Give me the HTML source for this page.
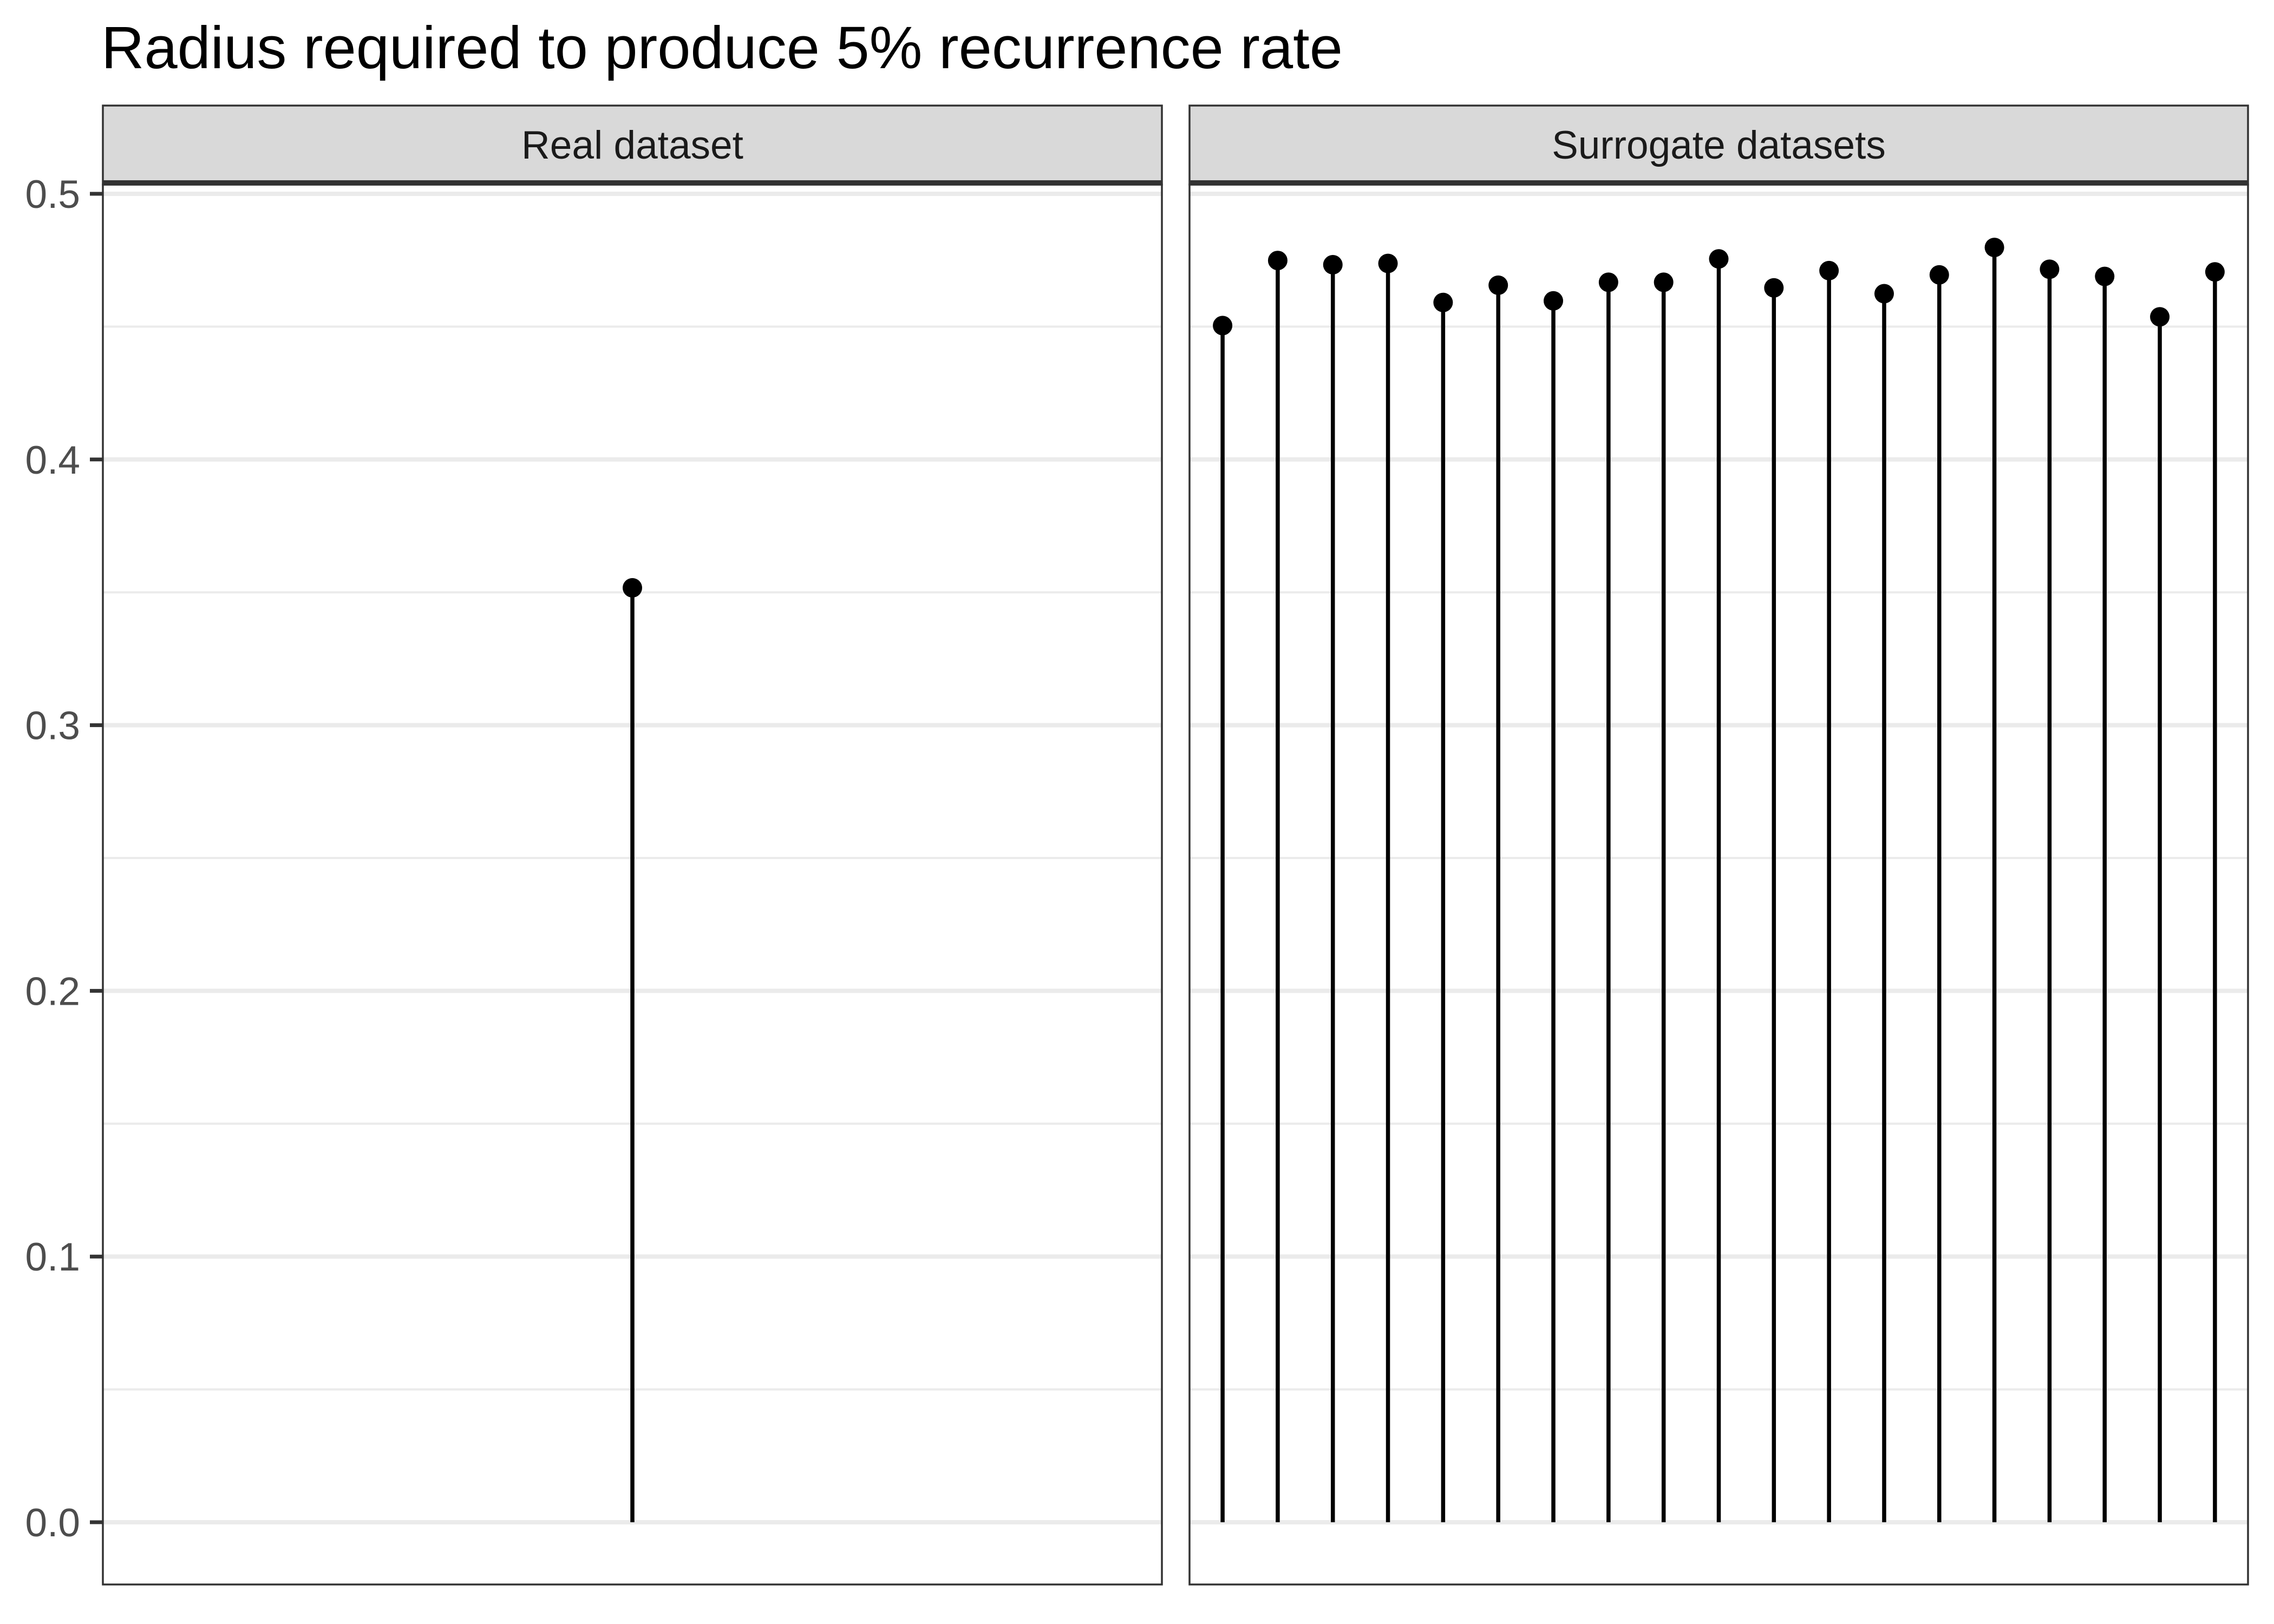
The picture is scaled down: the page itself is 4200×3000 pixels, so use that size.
<!DOCTYPE html>
<html><head><meta charset="utf-8"><style>
html,body{margin:0;padding:0;background:#fff;}
svg{display:block;font-family:"Liberation Sans",Arial,sans-serif;}
</style></head><body>
<svg id="chart" width="4200" height="3000" viewBox="0 0 4200 3000" xmlns="http://www.w3.org/2000/svg">
<text x="187" y="126" font-size="110" fill="#000">Radius required to produce 5% recurrence rate</text>
<g id="layer"></g>
</svg>
<script>
const panelNames = ["Real dataset", "Surrogate datasets"];
const realValues = [0.3517];
const surrogateValues = [0.4504,0.4749,0.4733,0.4738,0.4591,0.4656,0.4597,0.4667,0.4667,0.4755,0.4646,0.4711,0.4624,0.4695,0.4798,0.4716,0.4689,0.4537,0.4706];
const yTicks = [0, 0.1, 0.2, 0.3, 0.4, 0.5];
const yTickLabels = ["0.0","0.1","0.2","0.3","0.4","0.5"];

const NS = "http://www.w3.org/2000/svg";
const layer = document.getElementById('layer');
function mk(tag, attrs, parent){const e=document.createElementNS(NS,tag);for(const k in attrs)e.setAttribute(k,attrs[k]);(parent||layer).appendChild(e);return e;}
const PT=341, PB=2927, ST=195;
function y(v){return 2812 - v*(2812-358)/0.5;}
const panels=[{x0:190,x1:2146,vals:realValues},{x0:2197,x1:4152,vals:surrogateValues}];
panels.forEach((p,pi)=>{
  const n=p.vals.length;
  const x=i=>{ if(n===1) return (p.x0+p.x1)/2; const lo=0.4, hi=n+0.6; return p.x0+(i+1-lo)/(hi-lo)*(p.x1-p.x0); };
  const g=mk('g',{});
  
  
  for(let k=0;k<yTicks.length-1;k++){
    const v=(yTicks[k]+yTicks[k+1])/2;
    const l=mk('line',{x1:p.x0,x2:p.x1,y1:y(v),y2:y(v),stroke:'#ebebeb','stroke-width':4},g);
    
    
  }
  yTicks.forEach(v=>{
    const l=mk('line',{x1:p.x0,x2:p.x1,y1:y(v),y2:y(v),stroke:'#ebebeb','stroke-width':8},g);
    
    
  });
  p.vals.forEach((v,i)=>{
    const s=mk('line',{x1:x(i),x2:x(i),y1:y(0),y2:y(v),stroke:'#000','stroke-width':7.5},g);
    
    
    const c=mk('circle',{cx:x(i),cy:y(v),r:18,fill:'#000'},g);
    
    
  });
  const sr=mk('rect',{x:p.x0,y:ST,width:p.x1-p.x0,height:PT-ST,fill:'#d9d9d9',stroke:'#333','stroke-width':3.5},g);
  
  
  const sb=mk('line',{x1:p.x0,x2:p.x1,y1:337,y2:337,stroke:'#333','stroke-width':8},g);
  
  
  const st=mk('text',{x:(p.x0+p.x1)/2,y:293,'font-size':73,fill:'#1a1a1a','text-anchor':'middle'},g);
  st.textContent=panelNames[pi];
  
  
  const b=mk('rect',{x:p.x0,y:PT,width:p.x1-p.x0,height:PB-PT,fill:'none',stroke:'#333','stroke-width':3.5},g);
  
  
});
yTicks.forEach((v,i)=>{
  const t=mk('line',{x1:166,x2:190,y1:y(v),y2:y(v),stroke:'#333','stroke-width':7});
  
  
  const l=mk('text',{x:148,y:y(v)+26,'font-size':73,fill:'#4d4d4d','text-anchor':'end'});
  l.textContent=yTickLabels[i];
  
  
});
</script>
</body></html>
